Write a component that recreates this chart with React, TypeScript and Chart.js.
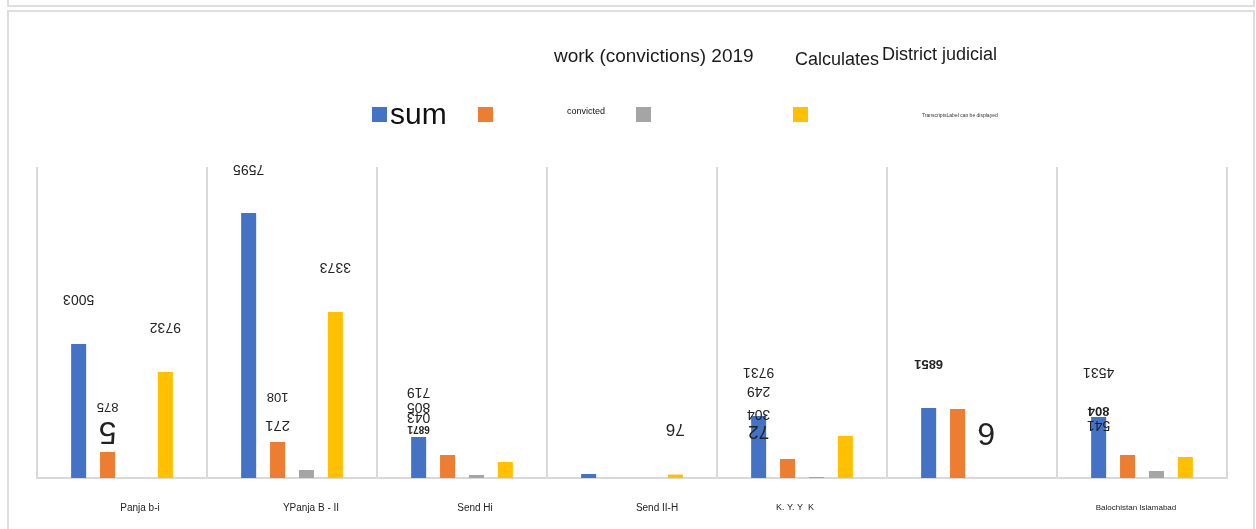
import React, { useEffect, useRef } from "react";
import { Chart, registerables } from "chart.js";

Chart.register(...registerables);

// ---- data ----
const categories = ["Panja b-i", "YPanja B - II", "Send Hi", "Send II-H", "K. Y. Y  K", "", "Balochistan Islamabad"];
const seriesNames = ["sum", "convicted", "", "TranscriptsLabel can be displayed"];
const sumValues = [3878, 7669, 1187, 116, 1794, 2026, 1765];
const convictedValues = [752, 1042, 666, 0, 550, 1997, 666];
const grayValues = [0, 232, 87, 0, 29, 0, 203];
const yellowValues = [3067, 4804, 463, 100, 1215, 0, 608];
const seriesColors = ["#4472C4", "#ED7D31", "#A5A5A5", "#FFC000"];

const titleParts = ["work (convictions) 2019", "Calculates", "District judicial"];

// data labels (upside-down text): text, category index, series index, anchor value
const labelTexts = ["5003", "9732", "875", "5", "7595", "3373", "108", "271", "719", "805", "043", "6871", "76", "9731", "249", "304", "72", "6851", "6", "4531", "804", "541"];
const labelCategory = [0, 0, 0, 0, 1, 1, 1, 1, 2, 2, 2, 2, 3, 4, 4, 4, 4, 5, 5, 6, 6, 6];
const labelSeries = [0, 3, 1, 1, 0, 3, 1, 1, 0, 0, 0, 0, 3, 0, 0, 0, 0, 0, 2, 0, 0, 0];
const labelValue = [5180, 4370, 2055, 1360, 8942, 6106, 2344, 1534, 2489, 2055, 1765, 1418, 1418, 3068, 2518, 1852, 1360, 3299, 1331, 3068, 1939, 1534];

// ---- styles (not data) ----
const labelSizes = [14, 14, 13, 32, 14, 14, 13, 15, 14, 14, 14, 10, 17, 14, 14, 14, 19, 13, 32, 14, 13, 14];
const labelBold = [0, 0, 0, 0, 0, 0, 0, 0, 0, 0, 0, 1, 0, 0, 0, 0, 0, 1, 0, 0, 1, 0];
const catLabelShift = [18, 19, 13, 25, -7, 0, -6];
const catLabelSize = [10, 10, 10, 10, 9, 10, 8];

const FONT = "'Liberation Sans', Arial, sans-serif";

const decorPlugin = {
  id: "decor",
  beforeDraw(chart: any) {
    const ctx = chart.ctx;
    ctx.save();
    ctx.fillStyle = "#ffffff";
    ctx.fillRect(0, 0, chart.width, chart.height);
    ctx.strokeStyle = "#dedede";
    ctx.lineWidth = 2;
    ctx.beginPath();
    ctx.moveTo(8, 0);
    ctx.lineTo(8, 6);
    ctx.lineTo(1254, 6);
    ctx.lineTo(1254, 0);
    ctx.moveTo(8, 529);
    ctx.lineTo(8, 11);
    ctx.lineTo(1254, 11);
    ctx.lineTo(1254, 529);
    ctx.stroke();
    ctx.restore();
  },
  afterDraw(chart: any) {
    const ctx = chart.ctx;
    const xs = chart.scales.x;
    const ys = chart.scales.y;
    ctx.save();
    // title
    ctx.fillStyle = "#1a1a1a";
    ctx.textBaseline = "middle";
    ctx.textAlign = "left";
    ctx.font = `19px ${FONT}`;
    ctx.fillText(titleParts[0], 554, 57);
    ctx.font = `18px ${FONT}`;
    ctx.fillText(titleParts[1], 795, 60);
    ctx.fillText(titleParts[2], 882, 55);

    // legend
    const sq = [372, 478, 636, 793];
    for (let i = 0; i < 4; i++) {
      ctx.fillStyle = seriesColors[i];
      ctx.fillRect(sq[i], 107, 15, 15);
    }
    ctx.fillStyle = "#111";
    ctx.font = `30px ${FONT}`;
    ctx.textBaseline = "alphabetic";
    ctx.fillText(seriesNames[0], 390, 124);
    ctx.textBaseline = "middle";
    ctx.font = `9px ${FONT}`;
    ctx.fillText(seriesNames[1], 567, 112);
    ctx.font = `5px ${FONT}`;
    ctx.fillStyle = "#333";
    ctx.fillText(seriesNames[3], 922, 116);

    // category labels
    ctx.fillStyle = "#222";
    ctx.textAlign = "center";
    categories.forEach((c, i) => {
      ctx.font = `${catLabelSize[i]}px ${FONT}`;
      ctx.fillText(c, xs.getPixelForValue(i) + catLabelShift[i], 508);
    });

    // upside-down data labels
    const catW = xs.width / categories.length;
    const slot = (catW * 0.68) / 4;
    labelTexts.forEach((t, k) => {
      const cx = xs.getPixelForValue(labelCategory[k]) - 2 * slot + slot * (labelSeries[k] + 0.5);
      const cy = ys.getPixelForValue(labelValue[k]);
      ctx.save();
      ctx.translate(cx, cy);
      ctx.rotate(Math.PI);
      ctx.font = `${labelBold[k] ? "bold " : ""}${labelSizes[k]}px ${FONT}`;
      ctx.fillStyle = "#222";
      ctx.textAlign = "center";
      ctx.textBaseline = "middle";
      ctx.fillText(t, 0, 0);
      ctx.restore();
    });
    ctx.restore();
  },
};

export default function App() {
  const ref = useRef<HTMLCanvasElement>(null);
  useEffect(() => {
    if (!ref.current) return;
    const values = [sumValues, convictedValues, grayValues, yellowValues];
    const chart = new Chart(ref.current, {
      type: "bar",
      data: {
        labels: categories,
        datasets: values.map((v, i) => ({
          label: seriesNames[i],
          data: v,
          backgroundColor: seriesColors[i],
          categoryPercentage: 0.68,
          barPercentage: 0.52,
        })),
      },
      options: {
        animation: false,
        responsive: false,
        devicePixelRatio: 1,
        layout: { padding: { left: 37, right: 29, top: 167, bottom: 0 } },
        plugins: { legend: { display: false }, title: { display: false }, tooltip: { enabled: false } },
        scales: {
          x: {
            offset: true,
            grid: { display: true, offset: true, color: "#d9d9d9", lineWidth: 2, drawTicks: false },
            border: { display: true, color: "#d9d9d9", width: 2 },
            ticks: { display: false },
            afterFit: (s: any) => {
              s.height = 51;
            },
          },
          y: { display: false, min: 0, max: 9000 },
        },
      },
      plugins: [decorPlugin],
    });
    return () => chart.destroy();
  }, []);
  return (
    <canvas
      ref={ref}
      width={1256}
      height={529}
      style={{ position: "absolute", left: 0, top: 0, display: "block", width: 1256, height: 529 }}
    />
  );
}
